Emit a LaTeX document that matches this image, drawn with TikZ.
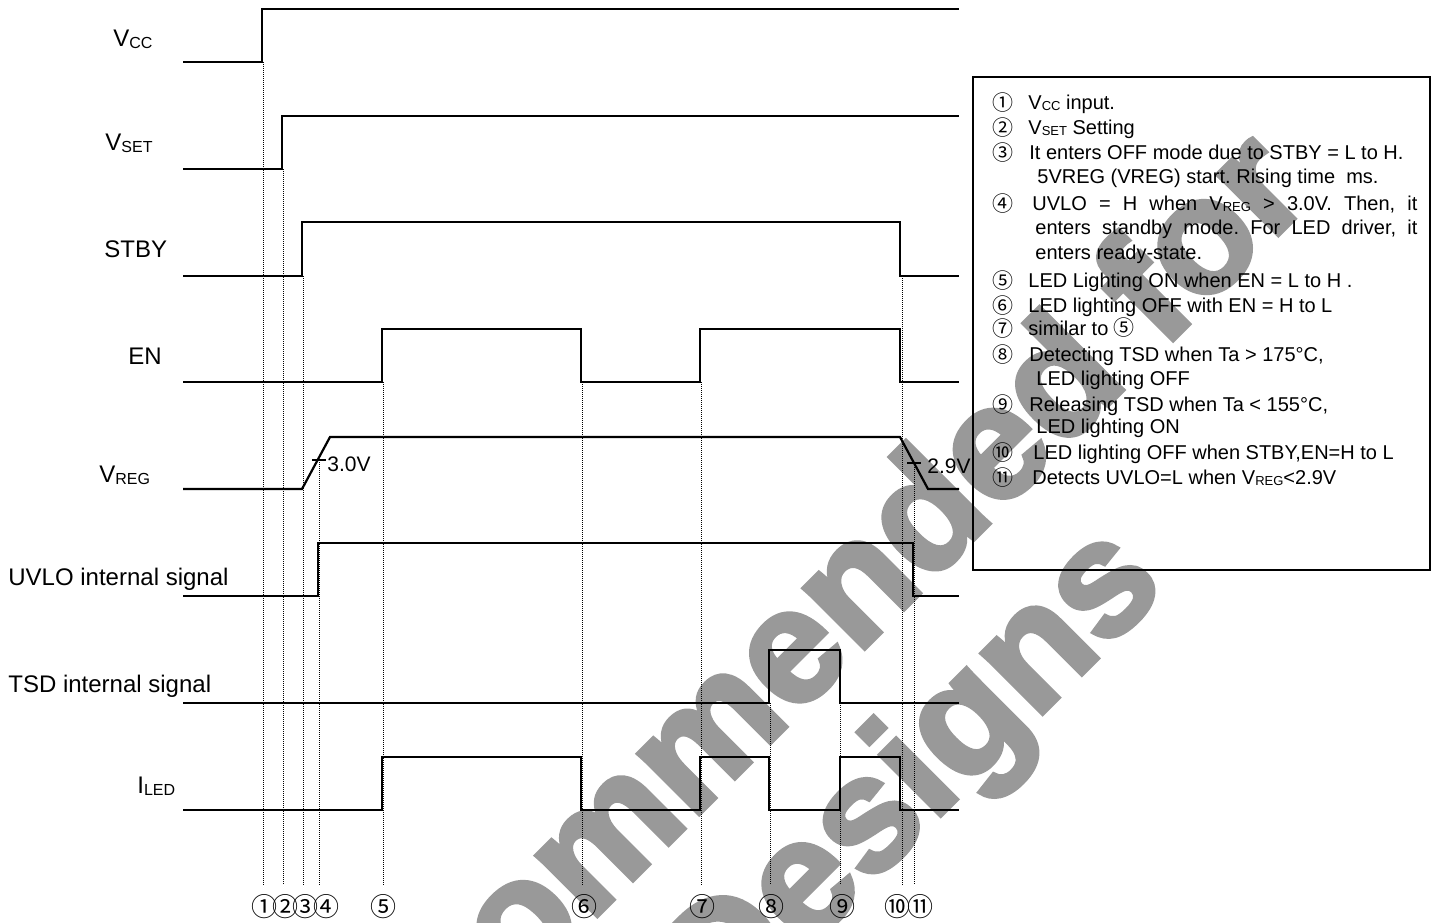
\documentclass[tikz,border=0pt]{standalone}
\usepackage{fontspec}
\setmainfont{Liberation Sans}
\newfontfamily\cjk{Noto Sans CJK JP}
\newfontfamily\wmfont[FakeBold=3]{Liberation Sans Bold}
\definecolor{wm}{RGB}{153,153,153}
\newcommand\labsub[1]{\raisebox{-1pt}{\fontsize{8}{8}\selectfont #1}}
\newcommand\notesub[1]{\raisebox{-0.5pt}{\fontsize{6.5}{6.5}\selectfont #1}}
\frenchspacing
\begin{document}
\begin{tikzpicture}[x=0.5pt,y=-0.5pt,
  sig/.style={line width=1.1pt, line join=miter},
  tick/.style={line width=1pt},
  guide/.style={line width=0.5pt, dash pattern=on 0.5pt off 0.5pt},
  lbl/.style={anchor=base west, inner sep=0pt, font=\fontsize{12}{12}\selectfont},
  num/.style={inner sep=0pt, font=\cjk\fontsize{13}{13}\selectfont},
  note/.style={anchor=base west, inner sep=0pt, font=\fontsize{10}{10}\selectfont},
  bnum/.style={inner sep=0pt, font=\cjk\fontsize{10.5}{10.5}\selectfont},
  volt/.style={anchor=base west, inner sep=0pt, font=\fontsize{10.5}{10.5}\selectfont},
  wmark/.style={text=wm, font=\wmfont\fontsize{81}{81}\selectfont, rotate=45, anchor=base, inner sep=0pt}
]
\useasboundingbox (0,0) rectangle (1436,922);
% watermark
\begin{scope}
\clip (0,0) rectangle (1436,922);
\node[wmark] (wm1) at (701,812) {Not Recommended for};
\node[wmark] (wm2) at (812,944) {New Designs};
\end{scope}
% signal labels
\node[lbl] (lvcc) at (113,46) {V\labsub{CC}};
\node[lbl] (lvset) at (105,150) {V\labsub{SET}};
\node[lbl] (lstby) at (104,257) {STBY};
\node[lbl] (len) at (128,364) {EN};
\node[lbl] (lvreg) at (99,482) {V\labsub{REG}};
\node[lbl] (luvlo) at (8,585) {UVLO internal signal};
\node[lbl] (ltsd) at (8,692) {TSD internal signal};
\node[lbl] (lled) at (137,793) {I\labsub{LED}};
% guides
\draw[guide] (263,62) -- (263,885);
\draw[guide] (283,169) -- (283,885);
\draw[guide] (303,276) -- (303,885);
\draw[guide] (319,460) -- (319,885);
\draw[guide] (383,382) -- (383,885);
\draw[guide] (582,382) -- (582,885);
\draw[guide] (701,382) -- (701,885);
\draw[guide] (770,703) -- (770,885);
\draw[guide] (840,703) -- (840,885);
\draw[guide] (902,276) -- (902,885);
\draw[guide] (914,463) -- (914,885);
% waveforms
\draw[sig] (183,62) -- (262,62) -- (262,9) -- (959,9);
\draw[sig] (183,169) -- (282,169) -- (282,116) -- (959,116);
\draw[sig] (183,276) -- (302,276) -- (302,222) -- (900,222) -- (900,276) -- (959,276);
\draw[sig] (183,382) -- (382,382) -- (382,329) -- (581,329) -- (581,382) -- (700,382) -- (700,329) -- (900,329) -- (900,382) -- (959,382);
\draw[sig] (183,489) -- (302,489) -- (330,437) -- (900,437) -- (928,489) -- (959,489);
\draw[sig] (183,596) -- (318,596) -- (318,543) -- (913,543) -- (913,596) -- (959,596);
\draw[sig] (183,703) -- (769,703) -- (769,650) -- (840,650) -- (840,703) -- (959,703);
\draw[sig] (183,810) -- (382,810) -- (382,757) -- (581,757) -- (581,810) -- (700,810) -- (700,757) -- (769,757) -- (769,810) -- (840,810) -- (840,757) -- (900,757) -- (900,810) -- (959,810);
% thresholds
\draw[tick] (312,460) -- (326,460);
\node[volt] (v30) at (327,471) {3.0V};
\draw[tick] (907,463) -- (921,463);
\node[volt] (v29) at (927,473) {2.9V};
% bottom numbers
\node[num] (n1) at (264,907) {①};
\node[num] (n2) at (285,907) {②};
\node[num] (n3) at (305,907) {③};
\node[num] (n4) at (326,907) {④};
\node[num] (n5) at (383,907) {⑤};
\node[num] (n6) at (584,907) {⑥};
\node[num] (n7) at (702,907) {⑦};
\node[num] (n8) at (771,907) {⑧};
\node[num] (n9) at (842,907) {⑨};
\node[num] (n10) at (897,907) {⑩};
\node[num] (n11) at (920,907) {⑪};
% legend box
\draw[line width=1pt] (973,77) rectangle (1430,570);
\node[bnum] (b1) at (1003,103) {①};
\node[note] (t1) at (1028,109) {V\notesub{CC} input.};
\node[bnum] (b2) at (1003,128) {②};
\node[note] (t2) at (1028,134) {V\notesub{SET} Setting};
\node[bnum] (b3) at (1003,153) {③};
\node[note] (t3) at (1029,159) {It enters OFF mode due to STBY = L to H.};
\node[note] (t3b) at (1037,183) {5VREG (VREG) start. Rising time~~ms.};
\node[bnum] (b4) at (1003,204) {④};
\node[note] (t4) at (1032,210) {\makebox[192.5pt][s]{UVLO = H when V\notesub{REG} > 3.0V. Then, it}};
\node[note] (t4b) at (1035,234) {\makebox[191pt][s]{enters standby mode. For LED driver, it}};
\node[note] (t4c) at (1035,259) {enters ready-state.};
\node[bnum] (b5) at (1003,281) {⑤};
\node[note] (t5) at (1028,287) {LED Lighting ON when EN = L to H .};
\node[bnum] (b6) at (1003,306) {⑥};
\node[note] (t6) at (1028,312) {LED lighting OFF with EN = H to L};
\node[bnum] (b7) at (1003,329) {⑦};
\node[note] (t7) at (1028,335) {similar to {\cjk\fontsize{10.5}{10.5}\selectfont ⑤}};
\node[bnum] (b8) at (1003,355) {⑧};
\node[note] (t8) at (1029,361) {Detecting TSD when Ta > 175°C,};
\node[note] (t8b) at (1036,385) {LED lighting OFF};
\node[bnum] (b9) at (1003,405) {⑨};
\node[note] (t9) at (1029,411) {Releasing TSD when Ta < 155°C,};
\node[note] (t9b) at (1036,433) {LED lighting ON};
\node[bnum] (b10) at (1003,453) {⑩};
\node[note] (t10) at (1033,459) {LED lighting OFF when STBY,EN=H to L};
\node[bnum] (b11) at (1003,478) {⑪};
\node[note] (t11) at (1032,484) {Detects UVLO=L when V\notesub{REG}<2.9V};
\end{tikzpicture}
\end{document}
